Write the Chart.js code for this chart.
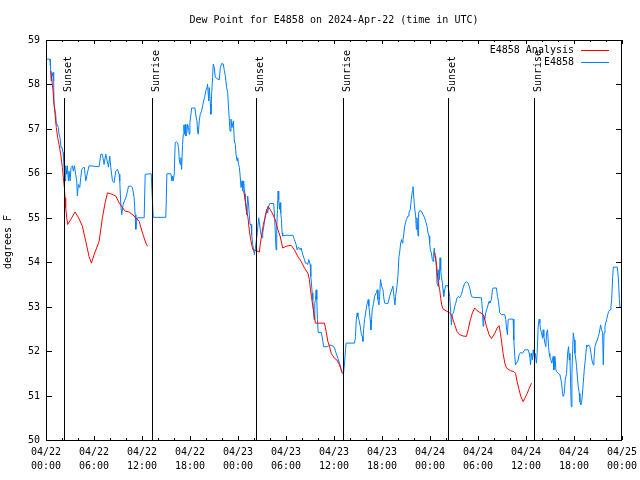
<!DOCTYPE html>
<html>
<head>
<meta charset="utf-8">
<script src="https://cdn.jsdelivr.net/npm/chart.js@4/dist/chart.umd.min.js"></script>
<style>
html,body{margin:0;padding:0;background:#fff;}
canvas{display:block;}
</style>
</head>
<body>
<canvas id="c" width="640" height="480"></canvas>
<script>
const chartTitle = "Dew Point for E4858 on 2024-Apr-22 (time in UTC)";
const yAxisTitle = "degrees F";
const seriesNames = ["E4858 Analysis", "E4858"];
const seriesColors = ["#ff0000", "#0080ff"];

const tickHours = [0, 6, 12, 18, 24, 30, 36, 42, 48, 54, 60, 66, 72];
const tickDates = ["04/22","04/22","04/22","04/22","04/23","04/23","04/23","04/23","04/24","04/24","04/24","04/24","04/25"];
const tickTimes = ["00:00","06:00","12:00","18:00","00:00","06:00","12:00","18:00","00:00","06:00","12:00","18:00","00:00"];
const yTicks = [50, 51, 52, 53, 54, 55, 56, 57, 58, 59];

const sunHours = [2.25, 13.25, 26.2, 37.1, 50.25, 61.0];
const sunLabels = ["Sunset", "Sunrise", "Sunset", "Sunrise", "Sunset", "Sunrise"];

// hours since 04/22 00:00 UTC
const analysisHours = [
0.63,0.79,0.88,1.00,1.13,1.29,1.46,1.63,1.84,2.05,
2.17,2.30,2.38,2.46,2.59,2.71,3.09,3.63,4.05,4.55,
4.97,5.38,5.68,6.01,6.64,7.05,7.39,7.68,8.10,8.72,
9.14,9.56,9.89,10.39,11.02,11.64,12.06,12.48,12.69,
18,
24.71,24.92,25.09,25.25,25.42,25.63,25.84,26.25,26.67,26.80,
26.97,27.17,27.38,27.59,27.76,28.01,28.26,28.55,28.76,28.97,
29.26,29.59,30.01,30.64,31.05,31.47,31.89,32.31,32.72,32.93,
33.06,33.18,33.35,33.48,33.68,34.81,35.02,35.23,35.44,35.65,
36.06,36.36,36.69,37.0,
43,
48.59,48.79,48.92,49.00,49.21,49.34,49.46,49.63,50.05,50.38,
50.67,50.88,51.09,51.38,51.72,52.13,52.55,52.76,53.05,53.30,
53.59,53.88,54.22,54.55,54.76,55.05,55.39,55.68,56.10,56.39,
56.64,56.81,56.97,57.14,57.35,57.56,58.06,58.48,58.69,58.89,
59.14,59.35,59.65,59.85,60.15,60.40,60.69
];
const analysisValues = [
58.30,58.01,57.86,57.56,57.33,57.03,56.80,56.65,56.43,56.13,
55.90,55.68,55.45,55.23,55.00,54.85,54.96,55.13,55.01,54.81,
54.47,54.13,53.98,54.17,54.47,55.00,55.34,55.56,55.54,55.49,
55.34,55.23,55.15,55.13,55.04,54.92,54.66,54.43,54.36,
null,
55.60,55.38,55.15,55.00,54.70,54.47,54.29,54.26,54.23,54.43,
54.62,54.85,55.00,55.15,55.26,55.19,55.11,55.00,54.89,54.74,
54.59,54.32,54.36,54.38,54.28,54.13,54.02,53.87,53.76,53.61,
53.38,53.23,53.01,52.86,52.63,52.63,52.44,52.22,52.10,51.95,
51.84,51.80,51.69,51.52,
null,
54.21,53.98,53.76,53.57,53.38,53.19,53.04,52.95,52.90,52.87,
52.82,52.71,52.59,52.44,52.37,52.34,52.33,52.48,52.71,52.86,
52.97,52.91,52.87,52.84,52.78,52.56,52.37,52.28,52.40,52.52,
52.57,52.40,52.18,51.95,51.73,51.62,51.56,51.54,51.50,51.31,
51.13,50.98,50.86,50.94,51.05,51.16,51.28
];

const obsHours = [
0.00,0.50,0.55,0.63,0.71,0.88,0.96,1.00,1.21,1.29,
1.42,1.54,1.63,1.75,1.88,2.00,2.13,2.21,2.30,2.38,
2.46,2.59,2.67,2.80,2.88,3.01,3.13,3.30,3.42,3.55,
3.71,3.84,3.92,4.05,4.22,4.34,4.47,4.63,4.80,4.97,
5.18,5.38,6.64,6.85,7.05,7.26,7.47,7.60,7.81,7.97,
8.10,8.31,8.51,8.72,8.93,9.14,9.22,9.35,9.47,9.64,
9.81,9.98,10.19,10.31,10.60,10.81,11.02,11.14,11.23,11.31,
11.44,12.27,12.40,13.15,13.40,14.98,15.11,15.61,15.74,15.82,
15.90,16.03,16.15,16.32,16.45,16.57,16.65,16.78,16.86,16.95,
17.07,17.16,17.24,17.32,17.41,17.49,17.61,17.70,17.82,17.91,
17.99,18.12,18.20,18.62,18.74,18.87,18.95,19.03,19.16,19.28,
19.45,19.58,19.70,19.83,19.99,20.12,20.20,20.33,20.41,20.54,
20.62,20.70,20.83,20.91,21.04,21.16,21.66,21.79,21.96,22.16,
22.29,22.41,22.58,22.71,22.79,22.92,23.00,23.12,23.25,23.42,
23.54,23.67,23.75,23.88,23.96,24.08,24.17,24.25,24.38,24.50,
24.59,24.71,24.79,24.88,24.92,25.00,25.09,25.21,25.30,25.42,
25.50,25.63,25.71,25.84,25.92,26.05,26.17,26.34,26.46,26.59,
26.76,26.88,27.01,27.09,27.22,27.30,27.42,27.59,27.71,27.84,
27.97,28.47,28.59,28.68,28.76,28.84,28.93,29.01,29.09,29.18,
29.26,29.34,29.43,29.51,29.59,30.01,30.43,30.85,31.05,31.26,
31.39,31.55,31.76,31.89,32.10,32.31,32.43,32.60,32.72,32.85,
33.02,33.10,33.18,33.27,33.35,33.43,33.52,33.60,33.68,33.77,
33.85,33.93,34.02,34.39,34.52,34.69,35.23,35.44,35.85,36.06,
36.27,36.48,36.69,36.90,37.02,37.19,37.32,37.44,37.52,38.57,
38.69,38.78,38.90,38.99,39.11,39.28,39.40,39.53,39.61,39.70,
39.82,39.95,40.11,40.28,40.36,40.45,40.53,40.61,40.70,40.78,
40.95,41.07,41.28,41.41,41.49,41.62,41.70,41.82,41.95,42.12,
42.20,42.33,42.45,42.74,42.95,43.16,43.37,43.49,43.62,43.70,
43.87,43.99,44.12,44.20,44.33,44.45,44.54,44.62,44.70,44.83,
44.95,45.04,45.25,45.37,45.54,45.66,45.79,45.87,45.96,46.08,
46.21,46.29,46.37,46.50,46.58,46.71,46.92,47.13,47.33,47.46,
47.63,47.75,47.88,47.96,48.04,48.17,48.29,48.38,48.46,48.54,
48.63,48.71,48.79,48.88,49.00,49.09,49.17,49.25,49.34,49.42,
49.55,49.63,49.71,49.84,49.96,50.26,50.46,50.59,50.67,50.80,
50.97,51.09,51.22,51.38,51.55,51.72,51.93,52.13,52.34,52.55,
52.76,52.97,53.18,53.39,54.43,54.55,54.64,54.72,54.84,54.97,
55.14,55.26,55.39,55.47,55.68,55.80,55.89,56.31,56.43,56.56,
56.72,56.93,57.35,57.47,57.56,57.68,57.77,57.89,58.39,58.48,
58.60,58.69,58.81,59.02,59.14,59.31,59.56,59.85,60.27,60.40,
60.48,60.56,60.69,60.81,60.90,61.02,61.15,61.31,61.40,61.52,
61.65,61.73,61.82,61.94,62.07,62.15,62.23,62.36,62.48,62.57,
62.69,62.82,62.90,62.98,63.11,63.23,63.40,63.49,63.61,63.74,
63.82,64.03,64.24,64.45,64.57,64.65,64.78,64.90,65.07,65.20,
65.32,65.41,65.49,65.57,65.66,65.74,65.82,65.91,66.03,66.12,
66.24,66.32,66.45,66.53,66.66,66.74,66.87,66.99,67.16,67.28,
67.41,67.58,67.70,67.83,67.99,68.12,68.24,68.41,68.49,68.62,
68.74,68.91,69.04,69.16,69.33,69.45,69.58,69.66,69.75,69.87,
70.00,70.08,70.21,70.33,70.50,70.62,70.71,70.83,70.92,71.42,
71.54,71.67,71.75
];
const obsValues = [
58.57,58.57,58.42,58.08,58.16,58.27,58.08,57.56,57.33,57.10,
57.10,57.03,56.88,56.80,56.58,56.58,56.47,56.28,55.98,55.83,
56.17,55.98,56.17,55.83,56.05,55.83,56.13,56.17,56.05,56.17,
55.98,55.83,55.49,55.75,55.68,55.90,56.09,56.13,56.13,55.83,
56.01,56.17,56.15,56.43,56.43,56.20,56.43,56.32,56.14,56.39,
56.13,55.83,55.79,56.05,56.09,55.98,55.83,55.30,55.07,55.30,
55.38,55.45,55.60,55.71,55.71,55.68,55.45,55.07,54.74,54.92,
55.00,55.00,55.98,55.99,55.01,55.01,55.99,55.99,55.83,55.94,
55.83,55.98,56.69,56.71,56.69,56.58,56.32,56.20,56.35,56.09,
56.65,56.88,57.09,56.88,57.10,56.84,56.92,57.10,57.03,56.88,
57.14,57.33,57.47,57.47,57.29,57.18,56.95,56.88,57.18,57.33,
57.40,57.52,57.63,57.71,57.86,57.93,58.01,57.63,57.93,57.56,
57.33,57.78,58.16,58.46,58.38,58.16,58.10,58.38,58.47,58.46,
58.31,58.20,57.93,57.82,57.56,57.18,56.95,57.22,57.03,57.18,
56.73,56.65,56.43,56.28,56.35,56.20,56.13,55.98,55.68,55.83,
55.60,55.83,55.64,55.53,55.38,55.23,55.07,55.49,55.34,55.07,
54.85,54.85,54.62,54.40,54.29,54.17,54.32,54.55,54.77,55.00,
54.77,54.62,54.55,54.66,54.81,54.89,55.07,55.19,55.11,55.26,
55.32,55.32,54.96,54.59,54.28,54.74,55.19,55.60,55.41,55.19,
55.34,55.11,54.96,54.66,54.59,54.61,54.60,54.61,54.51,54.40,
54.28,54.34,54.28,54.32,54.17,54.06,53.98,53.98,53.95,54.06,
53.95,53.68,53.53,53.31,53.16,52.93,52.71,53.08,53.16,53.38,
53.16,52.71,52.42,52.42,52.33,52.10,52.10,52.14,52.12,52.07,
51.95,51.84,51.73,51.59,51.50,51.50,51.73,52.03,52.18,52.18,
52.33,52.71,52.86,52.78,52.71,52.56,52.40,52.33,52.22,52.48,
52.71,52.86,53.04,53.16,53.01,52.86,52.71,52.48,52.71,52.93,
53.08,53.23,53.31,53.38,53.16,53.04,53.23,53.61,53.46,53.38,
53.23,53.08,53.07,53.07,53.23,53.35,53.46,53.23,53.04,53.23,
53.46,53.68,54.13,54.21,54.43,54.51,54.43,54.51,54.59,54.81,
54.89,54.96,55.04,55.11,55.19,55.41,55.60,55.70,55.49,55.22,
55.04,54.74,55.00,54.59,55.11,55.16,55.15,55.07,55.00,54.92,
54.81,54.66,54.59,54.43,54.28,54.21,54.06,54.02,54.21,54.32,
54.13,54.06,53.91,53.53,53.46,53.83,53.61,54.10,53.83,53.68,
53.53,53.38,53.23,53.38,53.47,53.47,53.23,52.86,52.59,52.82,
52.89,53.01,53.08,53.20,53.23,53.20,53.27,53.42,53.53,53.56,
53.53,53.42,53.23,53.21,53.20,52.93,52.56,52.78,52.71,52.86,
52.97,53.04,53.12,53.08,53.16,53.38,53.42,53.42,53.23,53.12,
52.86,52.82,52.82,52.71,52.52,52.37,52.71,52.72,52.72,52.25,
51.88,51.69,51.73,51.80,51.92,51.97,51.95,52.03,52.03,51.95,
51.88,51.69,51.95,51.80,52.03,51.88,51.95,51.73,51.95,52.56,
52.72,52.63,52.48,52.41,52.29,52.48,52.33,52.18,52.10,52.41,
52.48,52.10,51.95,51.88,51.80,51.73,51.88,51.58,51.88,51.58,
51.54,51.50,51.47,51.28,51.05,50.98,51.05,51.35,51.50,51.95,
52.10,51.80,51.95,51.28,50.75,51.50,51.95,52.41,52.25,51.95,
51.80,51.65,51.35,51.20,51.05,50.86,50.79,50.90,51.28,51.58,
51.80,52.14,52.10,52.14,52.10,51.95,51.80,51.69,51.80,52.10,
52.18,52.25,52.33,52.41,52.59,52.48,52.41,51.69,52.41,52.56,
52.67,52.71,52.82,52.89,52.93,53.01,53.16,53.65,53.89,53.89,
53.65,53.16,52.97
];

const FONT = '10px "DejaVu Sans Mono", "Liberation Mono", monospace';

function toPoints(hours, values) {
  return hours.map((h, i) => ({ x: h, y: values[i] }));
}

const gnuplotFrame = {
  id: 'gnuplotFrame',
  afterDatasetsDraw(chart) {
    const ctx = chart.ctx;
    const a = chart.chartArea;
    const xs = chart.scales.x, ys = chart.scales.y;
    ctx.save();
    ctx.font = FONT;
    ctx.fillStyle = '#000';
    ctx.strokeStyle = '#000';
    ctx.lineWidth = 1;

    // sunrise / sunset markers
    sunHours.forEach((h, i) => {
      const px = Math.round(xs.getPixelForValue(h)) + 0.5;
      ctx.beginPath();
      ctx.moveTo(px, a.top + 58);
      ctx.lineTo(px, a.bottom);
      ctx.stroke();
      ctx.save();
      ctx.translate(px + 6, a.top + 52);
      ctx.rotate(-Math.PI / 2);
      ctx.textAlign = 'left';
      ctx.textBaseline = 'alphabetic';
      ctx.fillText(sunLabels[i], 0, 0);
      ctx.restore();
    });

    // border
    ctx.strokeRect(a.left + 0.5, a.top + 0.5, a.right - a.left - 1, a.bottom - a.top);

    // y ticks + labels
    ctx.textAlign = 'right';
    ctx.textBaseline = 'middle';
    yTicks.forEach(v => {
      const py = Math.round(ys.getPixelForValue(v)) + 0.5;
      ctx.beginPath();
      ctx.moveTo(a.left, py); ctx.lineTo(a.left + 6, py);
      ctx.moveTo(a.right, py); ctx.lineTo(a.right - 6, py);
      ctx.stroke();
      ctx.fillText(String(v), a.left - 6, py);
    });

    // x ticks (major every 6 h, minor every 2 h)
    for (let h = 0; h <= 72; h += 2) {
      const px = Math.round(xs.getPixelForValue(h)) + 0.5;
      const len = (h % 6 === 0) ? 4 : 2;
      ctx.beginPath();
      ctx.moveTo(px, a.bottom); ctx.lineTo(px, a.bottom - len);
      ctx.moveTo(px, a.top); ctx.lineTo(px, a.top + len);
      ctx.stroke();
    }
    ctx.textAlign = 'center';
    tickHours.forEach((h, i) => {
      const px = xs.getPixelForValue(h);
      ctx.fillText(tickDates[i], px, a.bottom + 12);
      ctx.fillText(tickTimes[i], px, a.bottom + 26);
    });

    // title
    ctx.fillText(chartTitle, (a.left + a.right) / 2, 20);

    // y axis title
    ctx.save();
    ctx.translate(8, (a.top + a.bottom) / 2 + 2);
    ctx.rotate(-Math.PI / 2);
    ctx.textAlign = 'center';
    ctx.textBaseline = 'middle';
    ctx.fillText(yAxisTitle, 0, 0);
    ctx.restore();

    // legend
    chart.data.datasets.forEach((ds, i) => {
      const ry = a.top + 10 + 12 * i;
      ctx.textAlign = 'right';
      ctx.textBaseline = 'middle';
      ctx.fillStyle = '#000';
      ctx.fillText(ds.label, a.right - 48, ry);
      ctx.strokeStyle = ds.borderColor;
      ctx.beginPath();
      ctx.moveTo(a.right - 41, Math.round(ry) + 0.5);
      ctx.lineTo(a.right - 13, Math.round(ry) + 0.5);
      ctx.stroke();
    });
    ctx.restore();
  }
};

new Chart(document.getElementById('c'), {
  type: 'line',
  data: {
    datasets: [
      {
        label: seriesNames[0],
        data: toPoints(analysisHours, analysisValues),
        borderColor: seriesColors[0],
        borderWidth: 1,
        pointRadius: 0,
        spanGaps: false,
        tension: 0,
        fill: false
      },
      {
        label: seriesNames[1],
        data: toPoints(obsHours, obsValues),
        borderColor: seriesColors[1],
        borderWidth: 1,
        pointRadius: 0,
        tension: 0,
        fill: false
      }
    ]
  },
  options: {
    responsive: false,
    animation: false,
    devicePixelRatio: 1,
    layout: { padding: { left: 46, top: 40, right: 18, bottom: 40 } },
    scales: {
      x: { type: 'linear', min: 0, max: 72, display: false },
      y: { type: 'linear', min: 50, max: 59, display: false }
    },
    plugins: {
      legend: { display: false },
      title: { display: false },
      tooltip: { enabled: false }
    }
  },
  plugins: [gnuplotFrame]
});
</script>
</body>
</html>
